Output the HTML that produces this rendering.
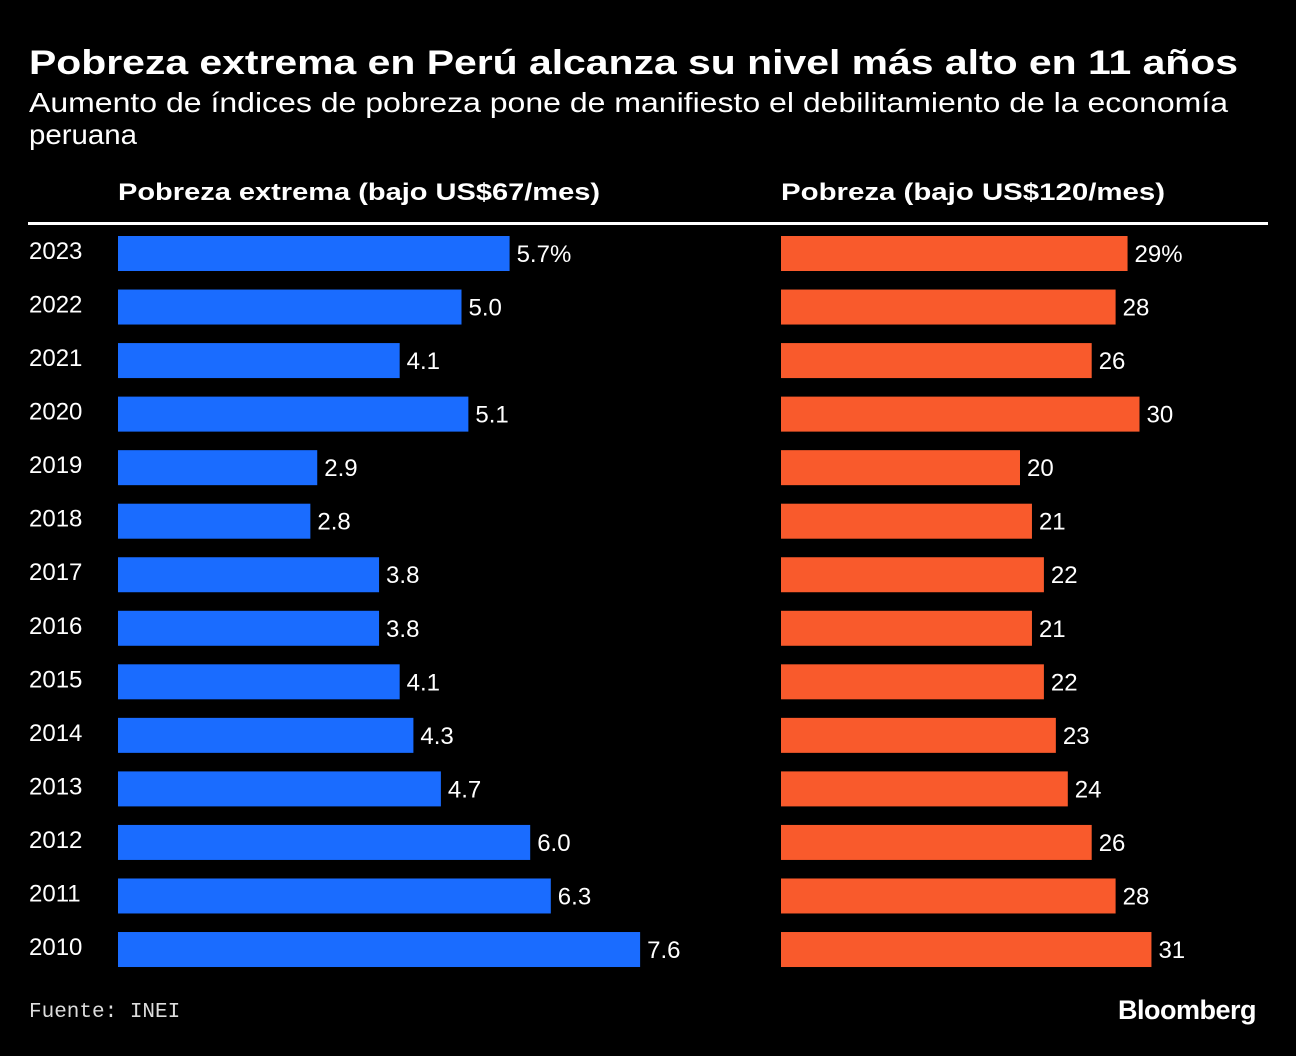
<!DOCTYPE html>
<html><head><meta charset="utf-8"><style>
html,body{margin:0;padding:0;background:#000;}
body{width:1296px;height:1056px;position:relative;overflow:hidden;font-family:"Liberation Sans",sans-serif;color:#fff;}
.t{position:absolute;white-space:nowrap;}
</style></head><body>
<svg id="chart" width="1296" height="1056" style="position:absolute;left:0;top:0">
<text x="29" y="74" fill="#fff" font-size="34" font-weight="bold" font-family="Liberation Sans" textLength="1209" lengthAdjust="spacingAndGlyphs">Pobreza extrema en Perú alcanza su nivel más alto en 11 años</text>
<text x="29" y="112" fill="#fff" font-size="28" font-family="Liberation Sans" textLength="1199" lengthAdjust="spacingAndGlyphs">Aumento de índices de pobreza pone de manifiesto el debilitamiento de la economía</text>
<text x="29" y="144" fill="#fff" font-size="28" font-family="Liberation Sans" textLength="108" lengthAdjust="spacingAndGlyphs">peruana</text>
<text x="118" y="200" fill="#fff" font-size="24" font-weight="bold" font-family="Liberation Sans" textLength="482" lengthAdjust="spacingAndGlyphs">Pobreza extrema (bajo US$67/mes)</text>
<text x="781" y="200" fill="#fff" font-size="24" font-weight="bold" font-family="Liberation Sans" textLength="384" lengthAdjust="spacingAndGlyphs">Pobreza (bajo US$120/mes)</text>
</svg>
<div style="position:absolute;left:28px;top:222px;width:1240px;height:3px;background:#fff"></div>
<div class="t" style="left:29px;top:1001px;font-size:21px;font-family:'Liberation Mono',monospace;color:#ddd">Fuente: INEI</div>
<div class="t" style="right:40px;top:995px;font-size:27px;font-weight:bold;letter-spacing:-0.5px">Bloomberg</div>
<script>
const years=["2023","2022","2021","2020","2019","2018","2017","2016","2015","2014","2013","2012","2011","2010"];
const extreme=[5.7,5.0,4.1,5.1,2.9,2.8,3.8,3.8,4.1,4.3,4.7,6.0,6.3,7.6];
const extremeLabels=["5.7%","5.0","4.1","5.1","2.9","2.8","3.8","3.8","4.1","4.3","4.7","6.0","6.3","7.6"];
const poverty=[29,28,26,30,20,21,22,21,22,23,24,26,28,31];
const povertyLabels=["29%","28","26","30","20","21","22","21","22","23","24","26","28","31"];
const NS="http://www.w3.org/2000/svg";
const svg=document.getElementById('chart');
const xA=v=>v*68.7;
const xB=v=>v*11.95;
const y=i=>236+i*53.54;
function el(tag,attrs){const e=document.createElementNS(NS,tag);for(const k in attrs)e.setAttribute(k,attrs[k]);svg.appendChild(e);return e;}
years.forEach((yr,i)=>{
  const t=el('text',{x:29,y:y(i)+23,fill:'#fff','font-size':24,'font-family':'Liberation Sans'});
  t.textContent=yr;
  
  
  const b=el('rect',{x:118,y:y(i),width:xA(extreme[i]),height:35,fill:'#1a6cff'});
  
  
  const l=el('text',{x:118+xA(extreme[i])+7,y:y(i)+26,fill:'#fff','font-size':24,'font-family':'Liberation Sans'});
  l.textContent=extremeLabels[i];
  
  
  const b2=el('rect',{x:781,y:y(i),width:xB(poverty[i]),height:35,fill:'#f95a2c'});
  
  
  const l2=el('text',{x:781+xB(poverty[i])+7,y:y(i)+26,fill:'#fff','font-size':24,'font-family':'Liberation Sans'});
  l2.textContent=povertyLabels[i];
  
  
});
</script>
</body></html>
